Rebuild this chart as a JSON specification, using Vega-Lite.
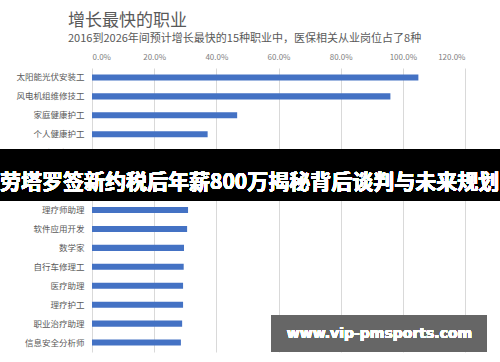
{
  "$schema": "https://vega.github.io/schema/vega-lite/v6.json",
  "width": 373,
  "height": 284,
  "autosize": "none",
  "padding": {"left": 92, "top": 68, "right": 35, "bottom": 10},
  "background": "white",
  "config": {"font": "Noto Sans CJK SC", "view": {"stroke": null}},
  "title": {
    "text": "增长最快的职业",
    "subtitle": "2016到2026年间预计增长最快的15种职业中，医保相关从业岗位占了8种",
    "anchor": "start",
    "frame": "group",
    "dx": -24,
    "offset": 8,
    "font": "Noto Sans CJK SC",
    "fontSize": 17,
    "fontWeight": "normal",
    "color": "#595959",
    "subtitleFont": "Noto Sans CJK SC",
    "subtitleFontSize": 11,
    "subtitleColor": "#595959",
    "subtitlePadding": 3
  },
  "data": {
    "values": [
      {"job": "太阳能光伏安装工", "growth": 1.05},
      {"job": "风电机组维修技工", "growth": 0.96},
      {"job": "家庭健康护工", "growth": 0.467},
      {"job": "个人健康护工", "growth": 0.372},
      {"job": "外科医生助理", "growth": 0.37},
      {"job": "护士", "growth": 0.36},
      {"job": "统计师", "growth": 0.34},
      {"job": "理疗师助理", "growth": 0.309},
      {"job": "软件应用开发", "growth": 0.306},
      {"job": "数学家", "growth": 0.296},
      {"job": "自行车修理工", "growth": 0.295},
      {"job": "医疗助理", "growth": 0.293},
      {"job": "理疗护工", "growth": 0.293},
      {"job": "职业治疗助理", "growth": 0.29},
      {"job": "信息安全分析师", "growth": 0.286}
    ]
  },
  "encoding": {
    "y": {
      "field": "job",
      "type": "nominal",
      "sort": null,
      "scale": {"paddingInner": 0, "paddingOuter": 0},
      "axis": {
        "title": null,
        "domain": false,
        "ticks": false,
        "grid": false,
        "labelFontSize": 8.5,
        "labelColor": "#595959",
        "labelPadding": 8
      }
    }
  },
  "layer": [
    {
      "mark": {"type": "bar", "color": "#4472C4", "height": {"band": 0.32}},
      "encoding": {
        "x": {
          "field": "growth",
          "type": "quantitative",
          "scale": {"domain": [0, 1.2], "nice": false},
          "axis": {
            "orient": "top",
            "title": null,
            "format": ".1%",
            "values": [0, 0.2, 0.4, 0.6, 0.8, 1.0, 1.2],
            "grid": true,
            "gridColor": "#d9d9d9",
            "domain": false,
            "ticks": false,
            "labelFontSize": 8,
            "labelColor": "#808080",
            "labelPadding": 7
          }
        }
      }
    },
    {
      "mark": {"type": "rect", "color": "black", "opacity": 0.58},
      "encoding": {
        "x": {"datum": -0.261},
        "x2": {"datum": 1.269},
        "y": {"datum": "外科医生助理", "bandPosition": 0.29},
        "y2": {"datum": "统计师", "bandPosition": 1}
      }
    },
    {
      "mark": {"type": "rect", "color": "black"},
      "encoding": {
        "x": {"datum": -0.31},
        "x2": {"datum": -0.261},
        "y": {"datum": "外科医生助理", "bandPosition": 0.29},
        "y2": {"datum": "统计师", "bandPosition": 1}
      }
    },
    {
      "mark": {"type": "rect", "color": "black"},
      "encoding": {
        "x": {"datum": 1.269},
        "x2": {"datum": 1.34},
        "y": {"datum": "外科医生助理", "bandPosition": 0.29},
        "y2": {"datum": "统计师", "bandPosition": 1}
      }
    },
    {
      "mark": {"type": "text", "color": "white", "fontSize": 21, "fontWeight": "bold", "align": "center", "baseline": "middle"},
      "encoding": {
        "x": {"datum": 0.507},
        "y": {"datum": "统计师", "bandPosition": 0.09},
        "text": {"value": "劳塔罗签新约税后年薪800万揭秘背后谈判与未来规划"}
      }
    },
    {
      "mark": {"type": "rect", "color": "#666666"},
      "encoding": {
        "x": {"datum": 0.578},
        "x2": {"datum": 1.269},
        "y": {"datum": "职业治疗助理", "bandPosition": 0.04},
        "y2": {"datum": "信息安全分析师", "bandPosition": 1}
      }
    },
    {
      "mark": {"type": "text", "color": "white", "fontSize": 14, "fontWeight": "bold", "align": "center", "baseline": "middle", "font": "DejaVu Sans"},
      "encoding": {
        "x": {"datum": 0.925},
        "y": {"datum": "信息安全分析师", "bandPosition": 0.05},
        "text": {"value": "www.vip-pmsports.com"}
      }
    }
  ]
}
